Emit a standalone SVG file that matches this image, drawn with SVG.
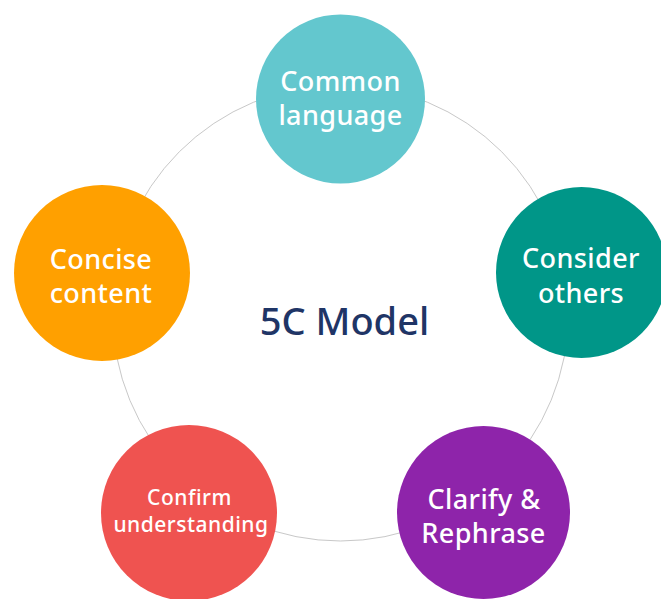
<svg xmlns="http://www.w3.org/2000/svg" width="661" height="599" viewBox="0 0 661 599">
<style>
.ring{fill:none;stroke:#c8c8c8;stroke-width:1}
.lbl{font-family:"Noto Sans","Open Sans",sans-serif;fill:#ffffff;text-anchor:middle;font-size:27px;letter-spacing:0.4px;font-weight:500}
.sm{font-size:21px;letter-spacing:0.5px}
.title{font-family:"Noto Sans","Open Sans",sans-serif;fill:#1f3566;text-anchor:middle;font-size:38px;font-weight:500}
</style>
<rect width="661" height="599" fill="#ffffff"/>
<g id="connectors">
<circle class="ring" cx="340.5" cy="313" r="228"/>
</g>
<g id="title"><text class="title" x="344.5" y="335">5C Model</text></g>
<g id="node-common">
<circle cx="340.5" cy="99" r="84.5" fill="#63c7ce"/>
<text class="lbl" x="340.5" y="91">Common</text>
<text class="lbl" x="340.5" y="125">language</text>
</g>
<g id="node-consider">
<circle cx="581.5" cy="272.5" r="85.5" fill="#009688"/>
<text class="lbl" x="581" y="268">Consider</text>
<text class="lbl" x="581" y="303">others</text>
</g>
<g id="node-clarify">
<circle cx="483.5" cy="512.5" r="86.5" fill="#8e24aa"/>
<text class="lbl" x="484" y="509">Clarify &amp;</text>
<text class="lbl" x="483.5" y="543">Rephrase</text>
</g>
<g id="node-confirm">
<circle cx="189" cy="513" r="88" fill="#ef5350"/>
<text class="lbl sm" x="189.5" y="505">Confirm</text>
<text class="lbl sm" x="191" y="532">understanding</text>
</g>
<g id="node-concise">
<circle cx="102" cy="273" r="88" fill="#ffa000"/>
<text class="lbl" x="101" y="269">Concise</text>
<text class="lbl" x="101" y="303">content</text>
</g>
</svg>
